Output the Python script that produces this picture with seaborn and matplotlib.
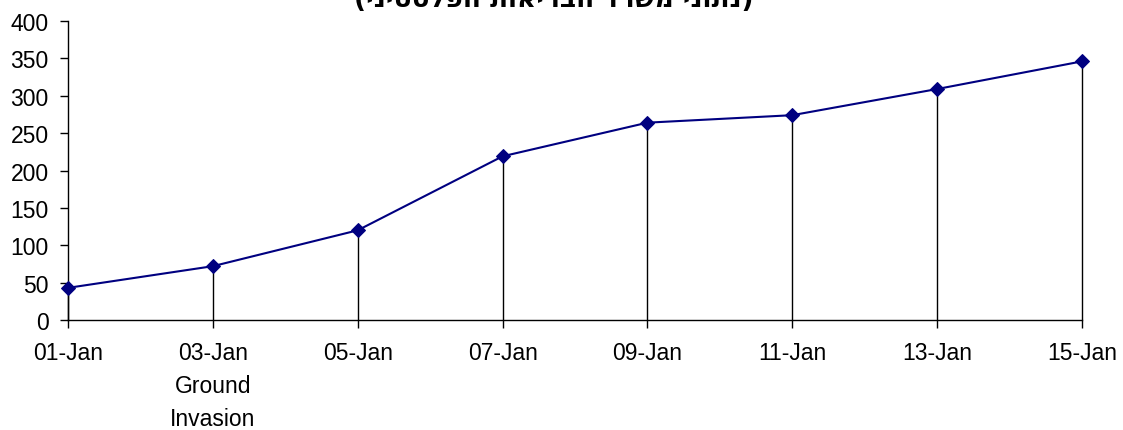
import pandas as pd
import seaborn as sns
import matplotlib.pyplot as plt

''' DATA READ OFF THE CHART
'''
dates = ['01-Jan', '03-Jan', '05-Jan', '07-Jan', '09-Jan', '11-Jan', '13-Jan', '15-Jan']
tick_labels = ['01-Jan', '03-Jan\nGround\nInvasion', '05-Jan', '07-Jan',
               '09-Jan', '11-Jan', '13-Jan', '15-Jan']
deaths = [43, 72, 120, 219, 264, 274, 309, 346]
y_ticks = [0, 50, 100, 150, 200, 250, 300, 350, 400]
title_he = 'נתוני משרד הבריאות הפלסטיני'

df = pd.DataFrame({'pos': range(len(dates)), 'date': dates, 'value': deaths})

''' STYLE
'''
sns.set_style('white')
plt.rcParams['font.family'] = ['Liberation Sans', 'DejaVu Sans']
plt.rcParams['text.color'] = 'black'
plt.rcParams['xtick.color'] = 'black'
plt.rcParams['ytick.color'] = 'black'

fig = plt.figure(figsize=(11.23, 4.31), dpi=100)
ax = fig.add_axes([68 / 1123, 1 - 321 / 431, (1082 - 68) / 1123, 299 / 431])

''' DROP LINES + LINE
'''
ax.vlines(df['pos'], 0, df['value'], color='black', linewidth=1, zorder=1, clip_on=False)
sns.lineplot(data=df, x='pos', y='value', color='#000080', linewidth=1.5,
             marker='D', markersize=7.5, markeredgecolor='#000080', ax=ax, zorder=3,
             clip_on=False)

ax.set_xlim(0, len(dates) - 1)
ax.set_ylim(0, 400)
ax.set_xticks(df['pos'])
ax.set_xticklabels(tick_labels, fontsize=16.5, linespacing=1.55)
ax.set_yticks(y_ticks)
ax.set_yticklabels([str(v) for v in y_ticks], fontsize=16.5)
ax.set_xlabel('')
ax.set_ylabel('')
ax.tick_params(axis='x', direction='out', length=6, width=1, pad=9, bottom=True,
               labelcolor='black')
ax.tick_params(axis='y', direction='out', length=6, width=1, pad=8, left=True,
               labelcolor='black')

sns.despine(ax=ax)
for s in ['left', 'bottom']:
    ax.spines[s].set_color('black')
    ax.spines[s].set_linewidth(1)

# title is cut off at the top edge in the original
title_vis = '(' + title_he[::-1] + ')'
fig.text(0.493, 1 - 7 / 431, title_vis, ha='center', va='baseline',
         fontsize=19, fontweight='bold', family=['DejaVu Sans'])

plt.savefig('out.png', dpi=100)
